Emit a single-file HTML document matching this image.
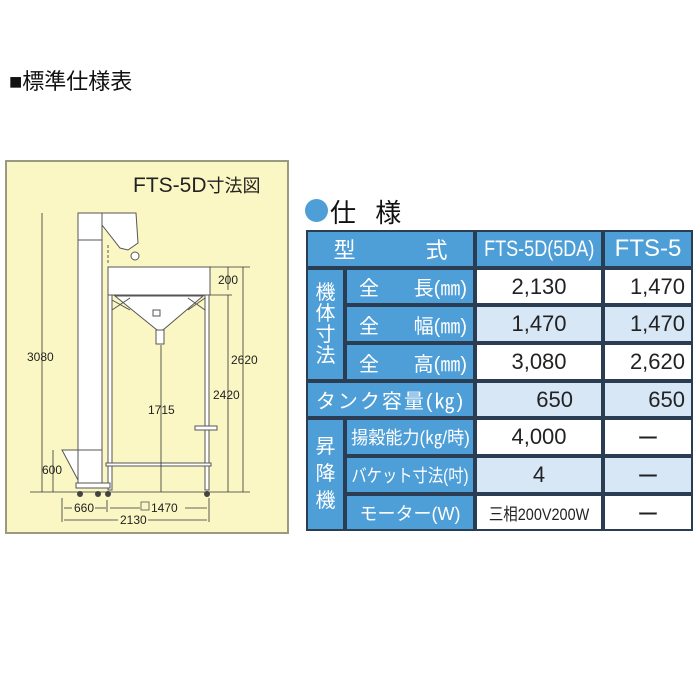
<!DOCTYPE html>
<html><head><meta charset="utf-8"><style>
body{margin:0;width:700px;height:700px;background:#fff;position:relative;overflow:hidden;font-family:"Liberation Sans","Noto Sans CJK JP",sans-serif;}
.t{position:absolute;}
.c{position:absolute;display:flex;align-items:center;justify-content:center;white-space:nowrap;color:#222;font-size:22px;overflow:hidden;}
.h{background:#4e9ed8;color:#fff;}
.w{background:#fff;}
.l{background:#d7e7f6;}
.r{justify-content:flex-end;padding-right:6px;box-sizing:border-box;}
</style></head><body>
<div class="t" style="left:9px;top:64px;font-size:22px;color:#111;">■標準仕様表</div>
<div class="t" style="left:5px;top:160px;width:280px;height:370px;background:#fbf7c4;border:2px solid #9a9a80;"></div>
<div class="t" style="left:133px;top:172px;font-size:21px;color:#222;">FTS-5D<span style="font-size:18px">寸法図</span></div>
<svg class="t" style="left:0;top:0" width="300" height="540" viewBox="0 0 300 540">
<g stroke="#555" stroke-width="1" fill="#fff">
<rect x="78" y="213" width="24" height="272"/>
<line x1="78" y1="240" x2="102" y2="240"/>
<line x1="78" y1="450" x2="102" y2="450"/>
<path d="M102 213 H136 L138 243 L128 250 L120 248 L102 225Z"/>
<circle cx="135" cy="256" r="4"/>
<rect x="108" y="267" width="102" height="28"/>
<path d="M115 296 L157 330 L163 330 L203 296Z"/>
<rect x="156" y="330" width="8" height="14"/>
<rect x="153" y="310" width="7" height="6"/>
<line x1="112" y1="300" x2="130" y2="310"/><line x1="112" y1="310" x2="130" y2="298"/>
<line x1="188" y1="298" x2="205" y2="310"/><line x1="188" y1="310" x2="205" y2="298"/>
<rect x="108" y="295" width="4" height="195"/>
<rect x="205" y="295" width="4" height="195"/>
<rect x="106" y="463" width="105" height="3"/>
<path d="M62 450 H78 V480 Z"/>
<rect x="76" y="483" width="34" height="5"/>
<rect x="195" y="426" width="22" height="4"/>
</g>
<g fill="#444"><circle cx="80" cy="494" r="3"/><circle cx="98" cy="494" r="3"/><circle cx="108" cy="494" r="3"/><circle cx="207" cy="494" r="3"/></g>
<g stroke="#333" stroke-width="0.8" fill="none">
<line x1="42" y1="213" x2="42" y2="492"/>
<line x1="53" y1="450" x2="53" y2="492"/>
<line x1="243" y1="267" x2="243" y2="492"/>
<line x1="228" y1="295" x2="228" y2="492"/>
<line x1="161" y1="345" x2="161" y2="492"/>
<line x1="228" y1="267" x2="228" y2="290"/>
<line x1="210" y1="267" x2="250" y2="267"/>
<line x1="210" y1="295" x2="232" y2="295"/>
<line x1="30" y1="492" x2="250" y2="492"/>
<line x1="62" y1="498" x2="62" y2="522"/>
<line x1="209" y1="498" x2="209" y2="522"/>
<line x1="107" y1="500" x2="107" y2="512"/>
<line x1="64" y1="508" x2="72" y2="508"/><line x1="95" y1="508" x2="106" y2="508"/>
<line x1="110" y1="508" x2="140" y2="508"/><line x1="185" y1="508" x2="207" y2="508"/>
<line x1="64" y1="520" x2="118" y2="520"/><line x1="148" y1="520" x2="207" y2="520"/>
<line x1="108" y1="245" x2="108" y2="265" stroke-dasharray="3,2"/>
</g>
<rect x="141" y="502" width="8" height="8" fill="none" stroke="#555" stroke-width="0.8"/>
<g font-family="Liberation Sans" font-size="12" fill="#222">
<text x="27" y="361">3080</text>
<text x="42" y="474">600</text>
<text x="231" y="364">2620</text>
<text x="213" y="399">2420</text>
<text x="218" y="284">200</text>
<text x="148" y="414">1715</text>
<text x="74" y="512">660</text>
<text x="151" y="512">1470</text>
<text x="120" y="524">2130</text>
</g>
</svg>
<div class="t" style="left:305px;top:199px;width:23px;height:23px;border-radius:50%;background:#4e9ed8;"></div>
<div class="t" style="left:330px;top:193px;font-size:26px;color:#111;letter-spacing:6px;">仕 様</div>

<div class="t" style="left:306px;top:230px;width:387px;height:301px;background:#2b3d52;"></div>
<div class="c h" style="left:308px;top:232px;width:165px;height:34px;font-size:22px;">型<span style="display:inline-block;width:70px"></span>式</div>
<div class="c h" style="left:477px;top:232px;width:124px;height:34px;"><span style="display:inline-block;transform:scaleX(0.82)">FTS-5D(5DA)</span></div>
<div class="c h" style="left:605px;top:232px;width:86px;height:34px;font-size:24px;">FTS-5</div>
<div class="c h" style="left:308px;top:270px;width:35px;height:109px;font-size:20px;line-height:21px;white-space:normal;text-align:center;">機<br>体<br>寸<br>法</div>
<div class="c h" style="left:347px;top:270px;width:126px;height:33px;font-size:20px;justify-content:space-between;padding:0 6px 0 12px;box-sizing:border-box;"><span>全</span><span>長(㎜)</span></div>
<div class="c h" style="left:347px;top:307px;width:126px;height:34px;font-size:20px;justify-content:space-between;padding:0 6px 0 12px;box-sizing:border-box;"><span>全</span><span>幅(㎜)</span></div>
<div class="c h" style="left:347px;top:345px;width:126px;height:34px;font-size:20px;justify-content:space-between;padding:0 6px 0 12px;box-sizing:border-box;"><span>全</span><span>高(㎜)</span></div>
<div class="c w" style="left:477px;top:270px;width:124px;height:33px;">2,130</div>
<div class="c w r" style="left:605px;top:270px;width:86px;height:33px;">1,470</div>
<div class="c l" style="left:477px;top:307px;width:124px;height:34px;">1,470</div>
<div class="c l r" style="left:605px;top:307px;width:86px;height:34px;">1,470</div>
<div class="c w" style="left:477px;top:345px;width:124px;height:34px;">3,080</div>
<div class="c w r" style="left:605px;top:345px;width:86px;height:34px;">2,620</div>
<div class="c h" style="left:308px;top:383px;width:165px;height:33px;font-size:20px;letter-spacing:2px;">タンク容量(㎏)</div>
<div class="c l r" style="left:477px;top:383px;width:124px;height:33px;padding-right:28px;">650</div>
<div class="c l r" style="left:605px;top:383px;width:86px;height:33px;">650</div>
<div class="c h" style="left:308px;top:420px;width:35px;height:109px;font-size:20px;line-height:27px;white-space:normal;text-align:center;">昇<br>降<br>機</div>
<div class="c h" style="left:347px;top:420px;width:126px;height:34px;font-size:18px;"><span style="display:inline-block;transform:scaleX(0.95)">揚穀能力(㎏/時)</span></div>
<div class="c h" style="left:347px;top:458px;width:126px;height:34px;font-size:18px;"><span style="display:inline-block;transform:scaleX(0.85)">バケット寸法(吋)</span></div>
<div class="c h" style="left:347px;top:496px;width:126px;height:33px;font-size:18px;">モーター(W)</div>
<div class="c w" style="left:477px;top:420px;width:124px;height:34px;">4,000</div>
<div class="c w" style="left:605px;top:420px;width:86px;height:34px;">ー</div>
<div class="c l" style="left:477px;top:458px;width:124px;height:34px;">4</div>
<div class="c l" style="left:605px;top:458px;width:86px;height:34px;">ー</div>
<div class="c w" style="left:477px;top:496px;width:124px;height:33px;font-size:17px;"><span style="display:inline-block;transform:scaleX(0.85)">三相200V200W</span></div>
<div class="c w" style="left:605px;top:496px;width:86px;height:33px;">ー</div>
</body></html>
